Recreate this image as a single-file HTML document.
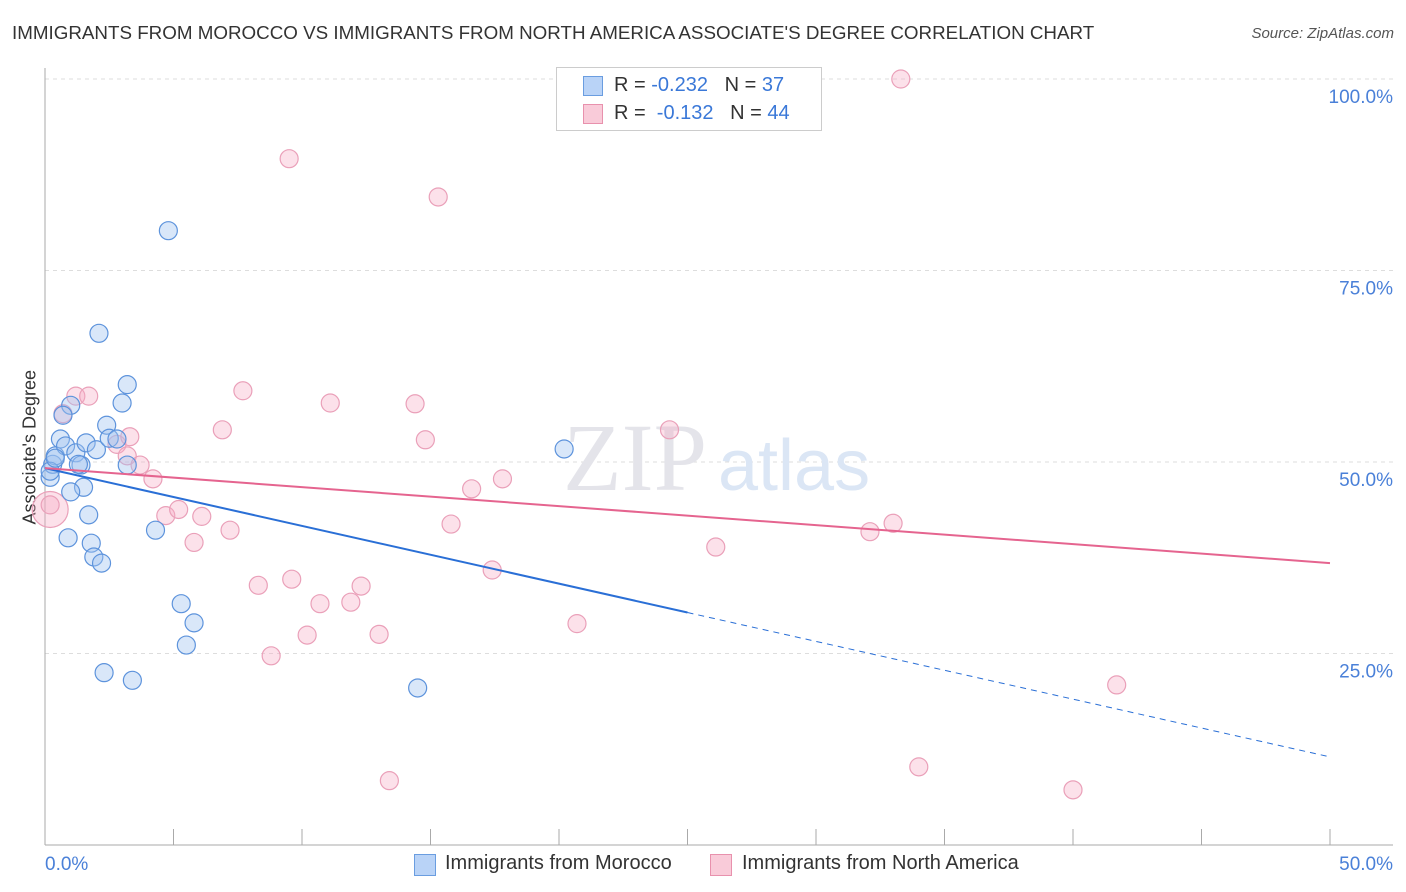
<!DOCTYPE html>
<html><head><meta charset="utf-8"><style>
body{margin:0;background:#fff;font-family:"Liberation Sans",sans-serif;}
#wrap{position:relative;width:1406px;height:892px;overflow:hidden;}
.t{position:absolute;white-space:nowrap;}
</style></head><body>
<div id="wrap">
<div class="t" style="left:12px;top:22px;font-size:18.8px;color:#333;">IMMIGRANTS FROM MOROCCO VS IMMIGRANTS FROM NORTH AMERICA ASSOCIATE'S DEGREE CORRELATION CHART</div>
<div class="t" style="right:12px;top:25px;font-size:15px;color:#555;font-style:italic;">Source: ZipAtlas.com</div>
<div class="t" style="left:-40px;top:444px;font-size:18px;color:#333;transform:rotate(-90deg);transform-origin:center;width:140px;text-align:center;">Associate's Degree</div>
<svg id="svg" width="1406" height="892" style="position:absolute;left:0;top:0"></svg>
<div style="position:absolute;left:556px;top:67px;width:264px;height:62px;border:1px solid #ccc;background:#fff;font-size:20px;">
 <div style="position:absolute;left:26px;top:8px;width:18px;height:18px;background:#b9d3f7;border:1px solid #6a9de0;"></div>
 <div class="t" style="left:57px;top:6px;color:#333;">R = <span style="color:#3a78d8">-0.232</span> &nbsp;&nbsp;N = <span style="color:#3a78d8">37</span></div>
 <div style="position:absolute;left:26px;top:36px;width:18px;height:18px;background:#f9cbd9;border:1px solid #e891ad;"></div>
 <div class="t" style="left:57px;top:34px;color:#333;">R = &nbsp;<span style="color:#3a78d8">-0.132</span> &nbsp;&nbsp;N = <span style="color:#3a78d8">44</span></div>
</div>
<div style="position:absolute;left:414px;top:852px;font-size:20px;color:#333;">
 <div style="position:absolute;left:0;top:2px;width:20px;height:20px;background:#b9d3f7;border:1px solid #6a9de0;"></div>
 <div class="t" style="left:31px;top:0;">Immigrants from Morocco</div>
 <div style="position:absolute;left:296px;top:2px;width:20px;height:20px;background:#f9cbd9;border:1px solid #e891ad;"></div>
 <div class="t" style="left:328px;top:0;">Immigrants from North America</div>
</div>
</div>
<script>
const yTicks=[100,75,50,25];
const yTickLabels=["100.0%","75.0%","50.0%","25.0%"];
const xLabels=["0.0%","50.0%"];
const moroccoX=[0.2,0.3,0.4,0.6,0.8,1.0,0.7,1.2,1.4,1.6,2.0,1.5,1.0,1.7,0.9,1.8,1.9,2.2,2.1,3.2,3.0,2.4,2.5,2.8,3.2,4.3,4.8,5.3,5.8,5.5,2.3,3.4,14.5,20.2,0.2,0.4,1.3];
const moroccoY=[48.0,49.7,50.8,53.0,52.1,57.4,56.1,51.2,49.6,52.5,51.6,46.7,46.1,43.1,40.1,39.4,37.6,36.8,66.8,60.1,57.7,54.8,53.1,53.0,49.6,41.1,80.2,31.5,29.0,26.1,22.5,21.5,20.5,51.7,48.8,50.5,49.7];
const naX=[0.2,0.7,1.2,1.7,2.8,3.2,3.3,3.7,4.2,4.7,5.2,5.8,6.1,6.9,7.2,7.7,8.3,8.8,9.5,9.6,10.2,10.7,11.1,11.9,12.3,13.0,13.4,14.4,14.8,15.3,15.8,16.6,17.4,17.8,20.7,24.3,26.1,32.1,33.0,33.3,34.0,40.0,41.7,0.2];
const naY=[43.8,56.3,58.6,58.6,52.3,50.8,53.3,49.6,47.8,43.0,43.8,39.5,42.9,54.2,41.1,59.3,33.9,24.7,89.6,34.7,27.4,31.5,57.7,31.7,33.8,27.5,8.4,57.6,52.9,84.6,41.9,46.5,35.9,47.8,28.9,54.2,38.9,40.9,42.0,100.0,10.2,7.2,20.9,44.4];
const naR=[18,9,9,9,9,9,9,9,9,9,9,9,9,9,9,9,9,9,9,9,9,9,9,9,9,9,9,9,9,9,9,9,9,9,9,9,9,9,9,9,9,9,9,9];
const blueTrend=[49.2,11.5], pinkTrend=[49.2,36.8];
const X=v=>45+v/50*1285, Y=v=>845-v/100*766;
const svg=document.getElementById('svg');const NS='http://www.w3.org/2000/svg';
function mk(t,a){const e=document.createElementNS(NS,t);for(const k in a)e.setAttribute(k,a[k]);svg.appendChild(e);return e;}
yTicks.forEach((v,i)=>{const g=mk('line',{x1:45,x2:1393,y1:Y(v),y2:Y(v),stroke:'#ddd','stroke-dasharray':'4,4'});

const t=mk('text',{x:1393,y:Y(v)+24,'text-anchor':'end','font-size':19,fill:'#4a80d8'});t.textContent=yTickLabels[i];
});
const wm=mk('text',{x:635,y:490,'text-anchor':'middle','font-size':96,fill:'#e4e4ea','font-family':'Liberation Serif'});wm.textContent='ZIP';

const wm2=mk('text',{x:718,y:490,'font-size':72,fill:'#dbe6f5'});wm2.textContent='atlas';

mk('line',{x1:45,x2:45,y1:68,y2:845,stroke:'#aaa'});
mk('line',{x1:45,x2:1393,y1:845,y2:845,stroke:'#aaa'});
for(let i=0;i<=10;i++){const l=mk('line',{x1:X(i*5),x2:X(i*5),y1:829,y2:845,stroke:'#aaa'});}
[[0,'start',45],[50,'end',1393]].forEach((d,i)=>{const t=mk('text',{x:d[2],y:870,'text-anchor':d[1],'font-size':19,fill:'#4a80d8'});t.textContent=xLabels[i];});
naX.forEach((x,i)=>{const c=mk('circle',{cx:X(x),cy:Y(naY[i]),r:naR[i],fill:'rgba(246,170,196,0.35)',stroke:'#eaa0b9','stroke-width':1.2});});
moroccoX.forEach((x,i)=>{const c=mk('circle',{cx:X(x),cy:Y(moroccoY[i]),r:9,fill:'rgba(160,196,240,0.4)',stroke:'#5d93dc','stroke-width':1.2});});
const by=x=>blueTrend[0]+(blueTrend[1]-blueTrend[0])*x/50;
let l=mk('line',{x1:X(0),y1:Y(by(0)),x2:X(25),y2:Y(by(25)),stroke:'#2a6fd6','stroke-width':2});
l=mk('line',{x1:X(25),y1:Y(by(25)),x2:X(50),y2:Y(by(50)),stroke:'#2a6fd6','stroke-width':1,'stroke-dasharray':'6,5'});
l=mk('line',{x1:X(0),y1:Y(pinkTrend[0]),x2:X(50),y2:Y(pinkTrend[1]),stroke:'#e5648f','stroke-width':2});
</script>
</body></html>
